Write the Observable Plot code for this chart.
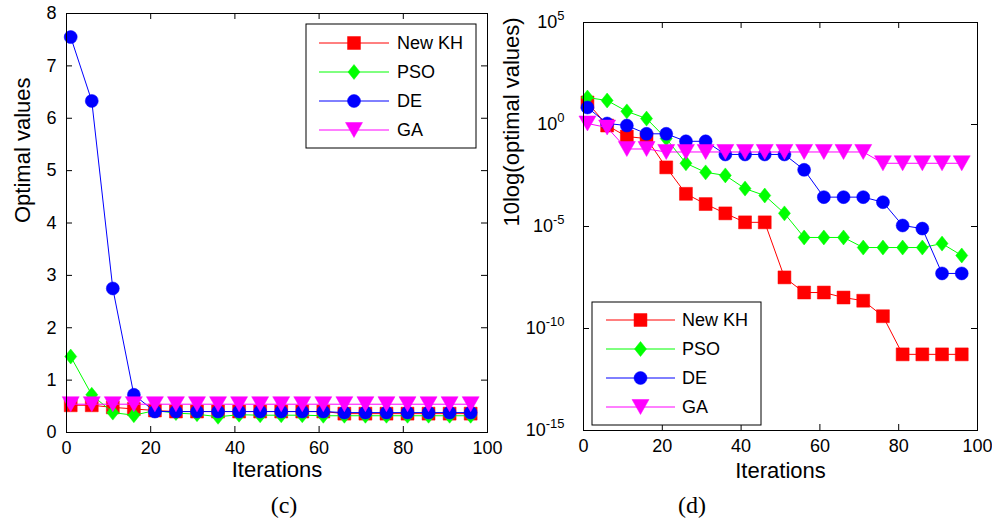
<!DOCTYPE html>
<html><head><meta charset="utf-8">
<script src="https://cdn.jsdelivr.net/npm/d3@7"></script>
<script src="https://cdn.jsdelivr.net/npm/@observablehq/plot@0.6"></script>
<style>
html,body{margin:0;padding:0;background:#fff;}
#wrap{position:relative;width:992px;height:520px;overflow:hidden;background:#fff;font-family:"Liberation Sans",Arial,sans-serif;}
.cap{position:absolute;font-family:"Liberation Serif","Times New Roman",serif;font-size:24px;line-height:1;transform:translate(-50%,-50%);color:#000;}
</style></head><body><div id="wrap"></div>
<script>
// ---------- data ----------
const iterations = [1, 6, 11, 16, 21, 26, 31, 36, 41, 46, 51, 56, 61, 66, 71, 76, 81, 86, 91, 96];
const seriesNames = ["New KH", "PSO", "DE", "GA"];
const seriesColors = ["#ff0000", "#00ff00", "#0000ff", "#ff00ff"];

// panel (c): optimal values, linear scale
const cKH  = [0.52, 0.52, 0.48, 0.45, 0.42, 0.40, 0.40, 0.40, 0.40, 0.40, 0.40, 0.40, 0.40, 0.36, 0.36, 0.36, 0.36, 0.36, 0.36, 0.36];
const cPSO = [1.45, 0.72, 0.38, 0.33, 0.42, 0.37, 0.35, 0.30, 0.34, 0.33, 0.33, 0.33, 0.32, 0.32, 0.32, 0.32, 0.32, 0.32, 0.32, 0.32];
const cDE  = [7.55, 6.33, 2.75, 0.72, 0.40, 0.40, 0.40, 0.40, 0.40, 0.40, 0.40, 0.40, 0.40, 0.38, 0.38, 0.38, 0.38, 0.38, 0.38, 0.38];
const cGA  = [0.54, 0.54, 0.54, 0.54, 0.54, 0.54, 0.54, 0.54, 0.54, 0.54, 0.54, 0.54, 0.54, 0.54, 0.54, 0.54, 0.54, 0.54, 0.54, 0.54];

// panel (d): optimal values, log scale
const dKH  = [12.0, 0.89, 0.257, 0.204, 7.9e-3, 4.0e-4, 1.26e-4, 4.4e-5, 1.6e-5, 1.6e-5, 3.2e-8, 5.8e-9, 5.8e-9, 3.3e-9, 2.3e-9, 4.0e-10, 5.4e-12, 5.4e-12, 5.4e-12, 5.4e-12];
const dPSO = [21, 15, 4.4, 1.95, 0.204, 1.26e-2, 4.5e-3, 3.2e-3, 7.2e-4, 3.3e-4, 4.4e-5, 2.9e-6, 2.9e-6, 2.9e-6, 9.3e-7, 9.3e-7, 9.3e-7, 9.3e-7, 1.45e-6, 3.8e-7];
const dDE  = [6.8, 1.12, 0.89, 0.35, 0.35, 0.15, 0.15, 3.4e-2, 3.4e-2, 3.4e-2, 3.4e-2, 6.0e-3, 2.75e-4, 2.75e-4, 2.75e-4, 1.55e-4, 1.12e-5, 7.9e-6, 5.0e-8, 5.0e-8];
const dGA  = [1.12, 0.71, 6.3e-2, 6.3e-2, 4.5e-2, 4.5e-2, 4.5e-2, 4.5e-2, 4.5e-2, 4.5e-2, 4.5e-2, 4.5e-2, 4.5e-2, 4.5e-2, 4.5e-2, 1.26e-2, 1.26e-2, 1.26e-2, 1.26e-2, 1.26e-2];

const xTicks = [0, 20, 40, 60, 80, 100];
const cYTicks = [0, 1, 2, 3, 4, 5, 6, 7, 8];
const dYTicks = [1e5, 1e0, 1e-5, 1e-10, 1e-15];
const xLabel = "Iterations";
const cYLabel = "Optimal values";
const dYLabel = "10log(optimal values)";
const captions = ["(c)", "(d)"];

// ---------- marker shapes (MATLAB-like) ----------
const symDiamond = {draw(ctx, size) { const h = Math.sqrt(size / 1.6), w = 0.8 * h;
  ctx.moveTo(0, -h); ctx.lineTo(w, 0); ctx.lineTo(0, h); ctx.lineTo(-w, 0); ctx.closePath(); }};
const symTriDown = {draw(ctx, size) { const k = Math.sqrt(size / 127.5), w = 8.5 * k, h = 7.5 * k;
  ctx.moveTo(-w, -h); ctx.lineTo(w, -h); ctx.lineTo(0, h); ctx.closePath(); }};
const seriesSymbols = [d3.symbolSquare, symDiamond, d3.symbolCircle, symTriDown];
const seriesR = [7.3, 5.35, 6.5, 6.37];

const W = 496, H = 490;

function makePanel(cfg) {
  const {values, yType, yDomain, yTicks, yFormat, m, yLabel, yLabelDx, xLabelDy, yPad} = cfg;
  const pw = W - m.l - m.r, ph = H - m.t - m.b;
  const marks = [];
  // inward ticks on all four sides
  marks.push(Plot.ruleX(xTicks, {x: d => d, insetTop: ph - 6, stroke: "#000"}));
  marks.push(Plot.ruleX(xTicks, {x: d => d, insetBottom: ph - 6, stroke: "#000"}));
  marks.push(Plot.ruleY(yTicks, {y: d => d, insetRight: pw - 6, stroke: "#000"}));
  marks.push(Plot.ruleY(yTicks, {y: d => d, insetLeft: pw - 6, stroke: "#000"}));
  values.forEach((vals, i) => {
    const rows = iterations.map((it, j) => ({it, v: vals[j]}));
    marks.push(Plot.line(rows, {x: "it", y: "v", stroke: seriesColors[i], strokeWidth: 1}));
    marks.push(Plot.dot(rows, {x: "it", y: "v", symbol: seriesSymbols[i], r: seriesR[i],
      fill: seriesColors[i], stroke: seriesColors[i], strokeWidth: 0.5}));
  });
  marks.push(Plot.frame({stroke: "#000", strokeWidth: 1}));
  marks.push(Plot.axisX({ticks: xTicks, tickSize: 0, tickPadding: 9, label: null, tickFormat: d => String(d)}));
  marks.push(Plot.axisY({ticks: yTicks, tickSize: 0, tickPadding: yPad, label: null, tickFormat: yFormat}));
  marks.push(Plot.text([xLabel], {text: d => d, frameAnchor: "bottom", dy: xLabelDy, fontSize: 22}));
  marks.push(Plot.text([yLabel], {text: d => d, frameAnchor: "left", dx: yLabelDx, rotate: -90, fontSize: 22}));
  return Plot.plot({
    width: W, height: H,
    marginLeft: m.l, marginRight: m.r, marginTop: m.t, marginBottom: m.b,
    x: {domain: [0, 100]},
    y: {type: yType, domain: yDomain},
    style: {fontFamily: "'Liberation Sans', Arial, sans-serif", fontSize: "18px", color: "#000", background: "transparent", overflow: "visible"},
    marks
  });
}

function addLegend(svg, box, rowsY, lx0, lx1, tx) {
  const g = d3.select(svg).append("g").attr("text-anchor", "start");
  g.append("rect").attr("x", box.x).attr("y", box.y).attr("width", box.w).attr("height", box.h)
    .attr("fill", "#fff").attr("stroke", "#000").attr("stroke-width", 1);
  seriesNames.forEach((name, i) => {
    const y = rowsY[i];
    g.append("line").attr("x1", lx0).attr("x2", lx1).attr("y1", y).attr("y2", y)
      .attr("stroke", seriesColors[i]).attr("stroke-width", 1);
    g.append("path").attr("transform", `translate(${(lx0 + lx1) / 2},${y})`)
      .attr("d", d3.symbol().type(seriesSymbols[i]).size(Math.PI * seriesR[i] * seriesR[i])())
      .attr("fill", seriesColors[i]).attr("stroke", seriesColors[i]).attr("stroke-width", 0.5);
    g.append("text").attr("x", tx).attr("y", y).attr("dy", "0.35em").attr("font-size", 18)
      .attr("text-anchor", "start").attr("fill", "#000").text(name);
  });
}

const wrap = document.getElementById("wrap");

const left = makePanel({
  values: [cKH, cPSO, cDE, cGA], yType: "linear", yDomain: [0, 8], yTicks: cYTicks,
  yFormat: d => String(d), m: {l: 66, r: 9, t: 13, b: 58}, yLabel: cYLabel, yLabelDx: -44, xLabelDy: 44, yPad: 10
});
left.style.position = "absolute"; left.style.left = "0px"; left.style.top = "0px";
wrap.appendChild(left);
addLegend(left, {x: 306, y: 24, w: 170, h: 124}, [43, 72, 101, 130], 319, 389, 397);

const right = makePanel({
  values: [dKH, dPSO, dDE, dGA], yType: "log", yDomain: [1e-15, 1e5], yTicks: dYTicks,
  yFormat: d => "10^" + Math.round(Math.log10(d)), m: {l: 87, r: 15, t: 22, b: 60},
  yLabel: dYLabel, yLabelDx: -72, xLabelDy: 47, yPad: 19
});
right.style.position = "absolute"; right.style.left = "496px"; right.style.top = "0px";
wrap.appendChild(right);
addLegend(right, {x: 96, y: 302, w: 169, h: 123}, [320, 349, 378, 407], 110, 179, 186);

// superscript exponents on the log axis
d3.select(right).selectAll("text").each(function () {
  const t = this.textContent;
  const mm = /^10\^(-?\d+)$/.exec(t);
  if (!mm) return;
  const sel = d3.select(this);
  sel.text(null);
  sel.append("tspan").text("10");
  sel.append("tspan").attr("dy", "-0.6em").attr("font-size", "13px").text(mm[1]);
});

// panel captions
[[284, 505], [692, 505]].forEach(([x, y], i) => {
  const c = document.createElement("div");
  c.className = "cap"; c.style.left = x + "px"; c.style.top = y + "px";
  c.textContent = captions[i];
  wrap.appendChild(c);
});
</script></body></html>
